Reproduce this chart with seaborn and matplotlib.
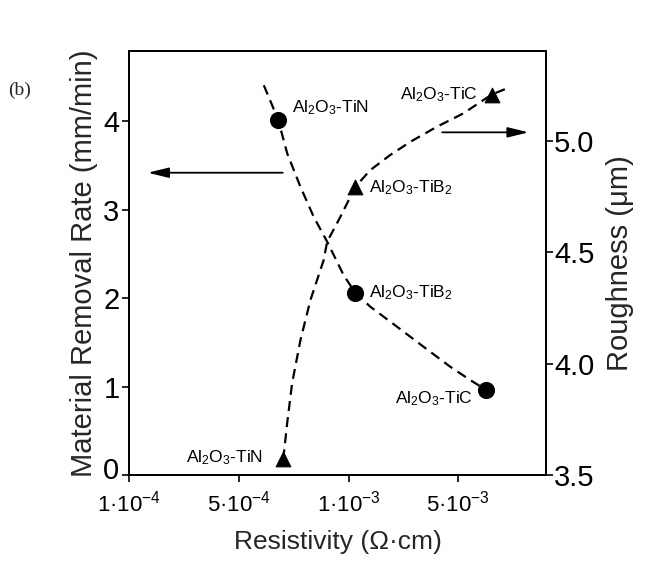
import pandas as pd
import seaborn as sns
import matplotlib
matplotlib.use("Agg")
import matplotlib.pyplot as plt
from matplotlib.transforms import ScaledTranslation

# x positions are the (evenly spaced) tick slots of the resistivity axis
tick_pos = [0, 1, 2, 3]
tick_labels = ["1·10$^{-4}$", "5·10$^{-4}$", "1·10$^{-3}$", "5·10$^{-3}$"]

materials = ["Al$_2$O$_3$-TiN", "Al$_2$O$_3$-TiB$_2$", "Al$_2$O$_3$-TiC"]

# material removal rate (left axis)
mrr_x = [1.358, 2.061, 3.255]
mrr_y = [4.02, 2.06, 0.96]

# roughness (right axis)
rough_x = [1.404, 2.061, 3.304]
rough_y = [3.57, 4.795, 5.21]

# dashed trend lines
mrr_curve_x = [1.227, 1.358, 1.44, 1.561, 1.682, 1.804, 1.955, 2.061, 2.197, 2.44, 2.682, 2.925, 3.106, 3.255, 3.349]
mrr_curve_y = [4.41, 4.02, 3.64, 3.26, 2.92, 2.64, 2.26, 2.06, 1.904, 1.678, 1.451, 1.225, 1.075, 0.96, 0.886]
rough_curve_x = [1.404, 1.44, 1.485, 1.561, 1.652, 1.773, 1.804, 1.925, 2.061, 2.197, 2.379, 2.561, 2.804, 3.045, 3.304, 3.44]
rough_curve_y = [3.57, 3.732, 3.912, 4.106, 4.286, 4.466, 4.548, 4.66, 4.795, 4.87, 4.938, 4.997, 5.065, 5.125, 5.21, 5.237]

sns.set_style("ticks")
plt.rcParams["font.family"] = ["Liberation Sans", "DejaVu Sans"]
plt.rcParams["mathtext.fontset"] = "custom"
plt.rcParams["mathtext.rm"] = "Liberation Sans"
plt.rcParams["mathtext.it"] = "Liberation Sans:italic"
plt.rcParams["mathtext.bf"] = "Liberation Sans:bold"

fig = plt.figure(figsize=(6.49, 5.62), dpi=100)
ax = fig.add_axes([0.199, 0.155, 0.642, 0.754])
ax2 = ax.twinx()

mrr_df = pd.DataFrame({"x": mrr_curve_x, "y": mrr_curve_y})
rough_df = pd.DataFrame({"x": rough_curve_x, "y": rough_curve_y})

sns.lineplot(data=mrr_df, x="x", y="y", sort=False, estimator=None, color="black",
             lw=1.6, ax=ax)
sns.lineplot(data=rough_df, x="x", y="y", sort=False, estimator=None, color="black",
             lw=1.6, ax=ax2)
for line in ax.lines + ax2.lines:
    line.set_dashes((4.5, 2.8))

sns.scatterplot(x=mrr_x, y=mrr_y, marker="o", s=130, color="black", edgecolor="black",
                ax=ax, zorder=5)
sns.scatterplot(x=rough_x, y=rough_y, marker="^", s=110, color="black", edgecolor="black",
                ax=ax2, zorder=5)

ax.set_xlim(0, 3.797)
ax.set_ylim(0, 4.796)
ax2.set_ylim(3.5, 5.405)

ax.set_xticks(tick_pos)
ax.set_xticklabels(tick_labels, fontsize=16)
ax.set_yticks([0, 1, 2, 3, 4])
ax.set_yticklabels(["0", "1", "2", "3", "4"], fontsize=21)
ax2.set_yticks([3.5, 4.0, 4.5, 5.0])
ax2.set_yticklabels(["3.5", "4.0", "4.5", "5.0"], fontsize=21)

ax.tick_params(axis="x", direction="out", length=5, width=1.2, pad=6, colors="black")
ax.tick_params(axis="y", direction="out", length=5, width=1.2, pad=2, colors="black")
ax2.tick_params(axis="y", direction="out", length=5, width=1.2, pad=1, colors="black")

# lift the "0" a little so it clears the first x tick label
zero_lbl = ax.get_yticklabels()[0]
zero_lbl.set_transform(zero_lbl.get_transform() + ScaledTranslation(0, 5 / 72, fig.dpi_scale_trans))

ax.set_xlabel("Resistivity (Ω·cm)", fontsize=19, labelpad=10)
ax.set_ylabel("Material Removal Rate (mm/min)", fontsize=21, labelpad=4)
ax2.set_ylabel("Roughness (μm)", fontsize=21, labelpad=8)

for a in (ax, ax2):
    for s in a.spines.values():
        s.set_linewidth(1.4)
        s.set_color("black")

# point labels (left-axis coordinates)
lab = dict(fontsize=12.5, color="black", va="center")
ax.text(1.486, 4.16, materials[0], ha="left", **lab)
ax.text(2.19, 2.06, materials[1], ha="left", **lab)
ax.text(3.13, 0.86, materials[2], ha="right", **lab)
ax.text(1.22, 0.19, materials[0], ha="right", **lab)
ax.text(2.19, 3.25, materials[1], ha="left", **lab)
ax.text(3.18, 4.30, materials[2], ha="right", **lab)

# arrows pointing to the respective axes
arrow = dict(arrowstyle="-|>,head_length=0.9,head_width=0.22", color="black", lw=1.3,
             mutation_scale=14, shrinkA=0, shrinkB=0)
ax.annotate("", xy=(0.17, 3.42), xytext=(1.40, 3.42), arrowprops=arrow)
ax.annotate("", xy=(3.64, 3.877), xytext=(2.853, 3.877), arrowprops=arrow)

fig.text(0.012, 0.84, "(b)", fontsize=14, family="Liberation Serif", va="center")

fig.savefig("out.png", dpi=100)
